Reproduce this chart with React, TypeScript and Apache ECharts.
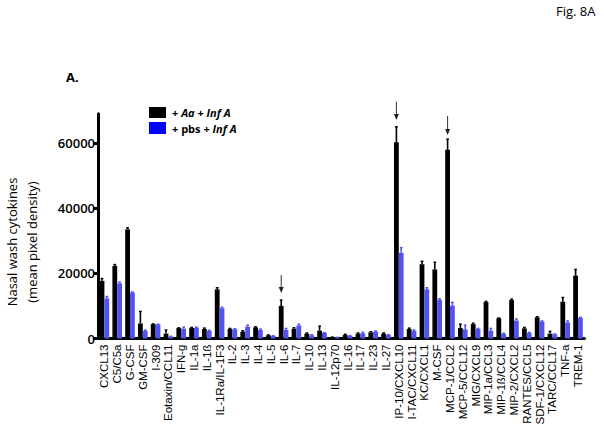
import React, { useEffect, useRef } from "react";
import * as echarts from "echarts";

const categories = [
  "CXCL13", "C5/C5a", "G-CSF", "GM-CSF", "I-309", "Eotaxin/CCL11", "IFN-g", "IL-1a", "IL-1ß",
  "IL-1Ra/IL-1F3", "IL-2", "IL-3", "IL-4", "IL-5", "IL-6", "IL-7", "IL-10", "IL-13", "IL-12p70",
  "IL-16", "IL-17", "IL-23", "IL-27", "IP-10/CXCL10", "I-TAC/CXCL11", "KC/CXCL1", "M-CSF",
  "MCP-1/CCL2", "MCP-5/CCL12", "MIG/CXCL9", "MIP-1a/CCL3", "MIP-1ß/CCL4", "MIP-2/CXCL2",
  "RANTES/CCL5", "SDF-1/CXCL12", "TARC/CCL17", "TNF-a", "TREM-1",
];

// + Aa + Inf A (mean and mean+SEM)
const aaInfA = [
  17700, 22300, 33500, 4600, 4400, 1500, 3200, 3200, 2900, 15100, 2900, 2100, 3400, 1000, 10000,
  3000, 1500, 2400, 400, 1100, 1500, 1900, 1500, 60200, 2900, 22800, 21200, 57900, 3200, 4400,
  11200, 6200, 11800, 3100, 6500, 1500, 11300, 19300,
];
const aaInfAUpper = [
  18400, 22700, 34000, 8300, 4500, 2600, 3300, 3400, 3200, 15600, 3100, 2400, 3600, 1100, 11800,
  3300, 1700, 3800, 450, 1300, 1700, 2100, 1700, 65000, 3200, 23700, 23400, 61200, 4400, 4700,
  11400, 6300, 12100, 3400, 6700, 2200, 12600, 21200,
];
// + pbs + Inf A
const pbsInfA = [
  12300, 16900, 14100, 2300, 4300, 600, 3000, 3300, 2300, 9300, 2800, 3600, 2600, 800, 2600,
  4000, 1000, 1700, 300, 800, 1600, 2100, 1100, 26300, 2300, 15100, 11800, 10100, 2800, 2900,
  2400, 1400, 5500, 1700, 5200, 1300, 4900, 6300,
];
const pbsInfAUpper = [
  12900, 17300, 14300, 2600, 4400, 700, 3500, 3500, 2500, 9600, 3000, 4100, 2900, 850, 3100,
  4400, 1200, 1800, 350, 900, 1900, 2300, 1200, 27900, 2600, 15600, 12200, 11100, 4100, 3100,
  3100, 1600, 6000, 1900, 5400, 1400, 5400, 6500,
];

const yTicks = [0, 20000, 40000, 60000];

const arrowCategories = ["IL-6", "IP-10/CXCL10", "MCP-1/CCL2"];
const arrowFrom = [19500, 72700, 68300];
const arrowTo = [14000, 67100, 62500];

const BAR_W = 4.8;

function errorSeries(values: number[], upper: number[], offset: number, color: string) {
  return {
    type: "custom",
    z: 5,
    clip: false,
    data: values.map((v, i) => [i, v, upper[i]]),
    renderItem: (params: any, api: any) => {
      const i = api.value(0);
      const v = api.value(1);
      const e = api.value(2);
      const p0 = api.coord([i, v]);
      const p1 = api.coord([i, e]);
      const x = p0[0] + offset;
      return {
        type: "group",
        children: [
          { type: "line", shape: { x1: x, y1: p0[1], x2: x, y2: p1[1] }, style: { stroke: color, lineWidth: 1.6 } },
          { type: "line", shape: { x1: x - 1.4, y1: p1[1], x2: x + 1.4, y2: p1[1] }, style: { stroke: color, lineWidth: 1.4 } },
        ],
      };
    },
  };
}

const legendRich = {
  n: { fontSize: 11, lineHeight: 11, fontWeight: "bold", fontFamily: "Open Sans", fill: "#000" },
  i: { fontSize: 11, lineHeight: 11, fontWeight: "bold", fontStyle: "italic", fontFamily: "Open Sans", fill: "#000" },
};

export default function App() {
  const ref = useRef<HTMLDivElement>(null);
  useEffect(() => {
    if (!ref.current) return;
    const chart = echarts.init(ref.current, null, { renderer: "svg" });
    const option: any = {
      animation: false,
      backgroundColor: "#ffffff",
      grid: { left: 98, right: 19.6, top: 113.7, bottom: 90.5, containLabel: false },
      xAxis: {
        type: "category",
        data: categories,
        axisLine: { lineStyle: { color: "#000", width: 3 } },
        axisTick: { alignWithLabel: true, length: 3, lineStyle: { color: "#000", width: 1.5 } },
        axisLabel: {
          interval: 0,
          rotate: 90,
          margin: 6,
          fontSize: 11.5,
          fontFamily: "Liberation Sans",
          color: "#000",
        },
      },
      yAxis: {
        type: "value",
        min: 0,
        max: 69000,
        splitLine: { show: false },
        axisLine: { show: true, lineStyle: { color: "#000", width: 3 } },
        axisTick: { show: true, length: 5, customValues: yTicks, lineStyle: { color: "#000", width: 3 } },
        axisLabel: {
          customValues: yTicks,
          formatter: (v: number) => String(v),
          margin: 3,
          fontSize: 13,
          fontWeight: 600,
          fontFamily: "Open Sans",
          color: "#000",
        },
      },
      series: [
        {
          name: "+ Aa + Inf A",
          type: "bar",
          data: aaInfA,
          barWidth: BAR_W,
          barGap: "0%",
          itemStyle: { color: "#000000" },
        },
        {
          name: "+ pbs + Inf A",
          type: "bar",
          data: pbsInfA,
          barWidth: BAR_W,
          barGap: "0%",
          itemStyle: { color: "#5252f0" },
        },
        errorSeries(aaInfA, aaInfAUpper, -BAR_W / 2, "#000000"),
        errorSeries(pbsInfA, pbsInfAUpper, BAR_W / 2, "#5252f0"),
        {
          type: "custom",
          z: 6,
          clip: false,
          data: arrowCategories.map((c, k) => [categories.indexOf(c), arrowFrom[k], arrowTo[k]]),
          renderItem: (params: any, api: any) => {
            const i = api.value(0);
            const a = api.coord([i, api.value(1)]);
            const b = api.coord([i, api.value(2)]);
            const x = a[0] - BAR_W / 2;
            return {
              type: "group",
              children: [
                { type: "line", shape: { x1: x, y1: a[1], x2: x, y2: b[1] - 4 }, style: { stroke: "#333", lineWidth: 1 } },
                {
                  type: "polygon",
                  shape: { points: [[x - 2.5, b[1] - 6], [x + 2.5, b[1] - 6], [x, b[1]]] },
                  style: { fill: "#222" },
                },
              ],
            };
          },
        },
      ],
      graphic: [
        {
          type: "text",
          left: 556,
          top: 4,
          style: { text: "Fig. 8A", fontSize: 13, fontFamily: "Open Sans", fill: "#000" },
        },
        {
          type: "text",
          left: 66,
          top: 70,
          style: { text: "A.", fontSize: 13, fontWeight: "bold", fontFamily: "Open Sans", fill: "#000" },
        },
        {
          type: "text",
          x: 22,
          y: 242,
          rotation: Math.PI / 2,
          style: {
            text: "Nasal wash cytokines\n(mean pixel density)",
            fontSize: 13,
            lineHeight: 20,
            fontFamily: "Open Sans",
            fill: "#000",
            align: "center",
            verticalAlign: "middle",
          },
        },
        { type: "rect", shape: { x: 149, y: 107, width: 17, height: 11 }, style: { fill: "#000" } },
        { type: "rect", shape: { x: 149, y: 122, width: 17, height: 12 }, style: { fill: "#0000ff" } },
        {
          type: "text",
          x: 172,
          y: 112.5,
          style: { text: "{n|+ }{i|Aa}{n| + }{i|Inf A}", verticalAlign: "middle", rich: legendRich },
        },
        {
          type: "text",
          x: 172,
          y: 128.5,
          style: { text: "{n|+ pbs + }{i|Inf A}", verticalAlign: "middle", rich: legendRich },
        },
      ],
    };
    chart.setOption(option);
    return () => chart.dispose();
  }, []);
  return (
    <div
      ref={ref}
      style={{ position: "absolute", left: 0, top: 0, width: 604, height: 429, background: "#fff" }}
    />
  );
}
